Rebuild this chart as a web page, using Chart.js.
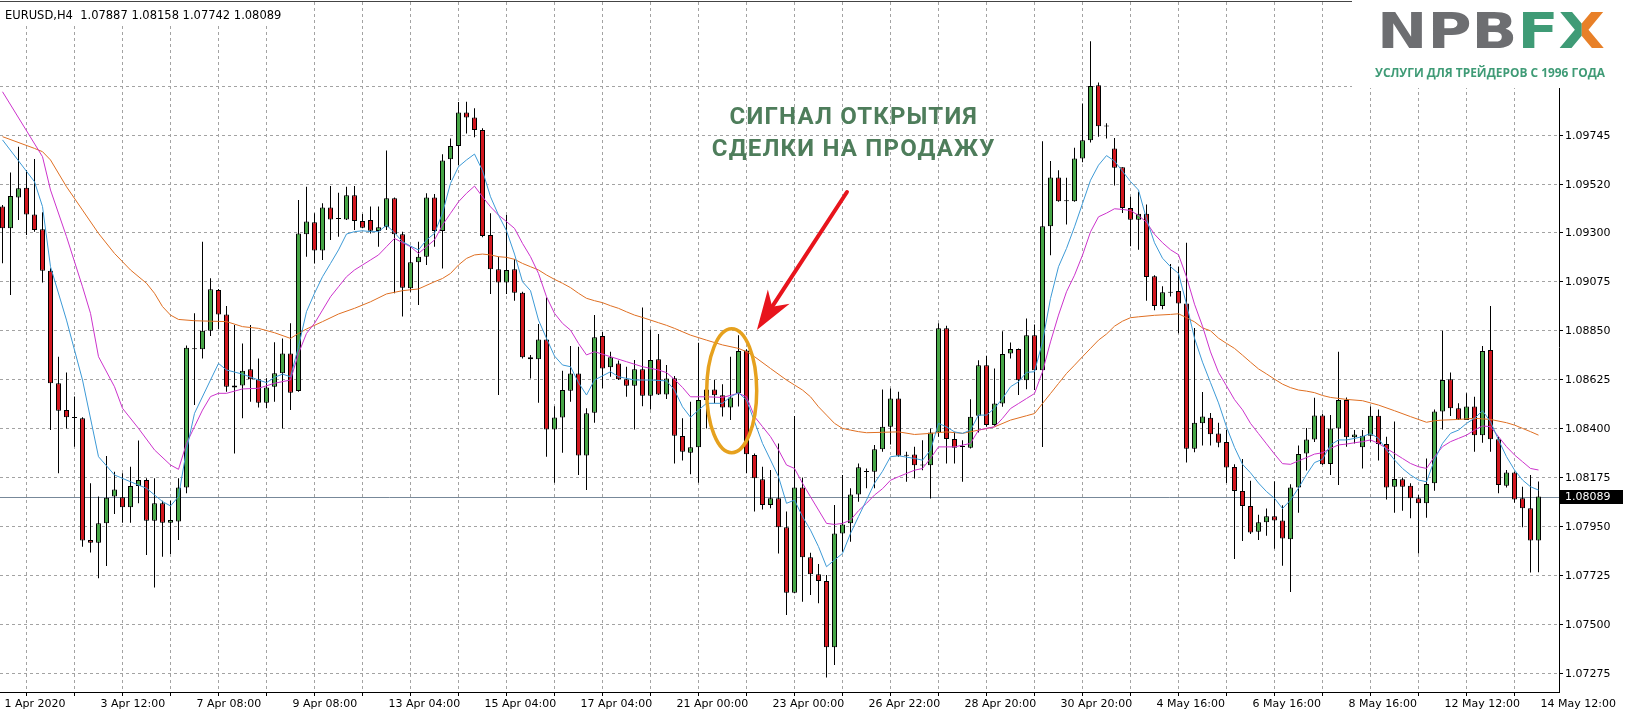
<!DOCTYPE html>
<html lang="ru">
<head>
<meta charset="utf-8">
<title>EURUSD H4</title>
<script src="https://cdn.jsdelivr.net/npm/chart.js@4.4.1/dist/chart.umd.min.js"></script>
<style>
  html, body { margin: 0; padding: 0; background: #fff; }
  #box { width: 1626px; height: 719px; }
</style>
</head>
<body>
<div id="box"><canvas id="chart" width="1626" height="719"></canvas></div>
<script>
// EURUSD H4, 193 свечи (1 Apr 12:00 .. 14 May 12:00) + три скользящие средние
const symbol = 'EURUSD';
const timeframe = 'H4';

// подписи оси времени — каждые 12 баров, сетка — каждые 6
const xTickLabels = ['1 Apr 2020', '3 Apr 12:00', '7 Apr 08:00', '9 Apr 08:00', '13 Apr 04:00', '15 Apr 04:00',
  '17 Apr 04:00', '21 Apr 00:00', '23 Apr 00:00', '26 Apr 22:00', '28 Apr 20:00', '30 Apr 20:00',
  '4 May 16:00', '6 May 16:00', '8 May 16:00', '12 May 12:00', '14 May 12:00'];
const barsPerLabel = 12;
const barsPerGrid = 6;

// верхняя линия сетки (1.09970) закрыта логотипом, подпись не видна
const yTickValues = [1.07275, 1.075, 1.07725, 1.0795, 1.08175, 1.084, 1.08625, 1.0885, 1.09075, 1.093, 1.0952, 1.09745, 1.0997];
const yTickLabels = ['1.07275', '1.07500', '1.07725', '1.07950', '1.08175', '1.08400', '1.08625', '1.08850', '1.09075', '1.09300', '1.09520', '1.09745', ''];
const yMin = 1.07192, yMax = 1.10359;
const xMin = -0.3125, xMax = 194.5625;

const opens = [
  1.09420, 1.09320, 1.09462, 1.09507, 1.09384, 1.09316, 1.09126, 1.08609, 1.08486, 1.08453,
  1.08448, 1.07890, 1.07877, 1.07966, 1.08089, 1.08086, 1.08040, 1.08138, 1.08165, 1.07978,
  1.08058, 1.07969, 1.07974, 1.08131, 1.08765, 1.08765, 1.08850, 1.09037, 1.08925, 1.08599,
  1.08599, 1.08673, 1.08627, 1.08520, 1.08593, 1.08655, 1.08746, 1.08573, 1.09293, 1.09348,
  1.09218, 1.09416, 1.09366, 1.09361, 1.09472, 1.09354, 1.09358, 1.09308, 1.09325, 1.09458,
  1.09293, 1.09045, 1.09164, 1.09190, 1.09462, 1.09308, 1.09637, 1.09698, 1.09852, 1.09829,
  1.09771, 1.09289, 1.09132, 1.09071, 1.09132, 1.09025, 1.08728, 1.08719, 1.08810, 1.08397,
  1.08452, 1.08575, 1.08654, 1.08277, 1.08474, 1.08826, 1.08682, 1.08700, 1.08627, 1.08598,
  1.08673, 1.08552, 1.08719, 1.08558, 1.08632, 1.08367, 1.08290, 1.08315, 1.08532, 1.08581,
  1.08554, 1.08498, 1.08563, 1.08759, 1.08280, 1.08168, 1.08050, 1.08081, 1.07948, 1.07648,
  1.08131, 1.07810, 1.07732, 1.07701, 1.07397, 1.07920, 1.07966, 1.08099, 1.08202, 1.08203,
  1.08306, 1.08409, 1.08539, 1.08279, 1.08282, 1.08235, 1.08233, 1.08383, 1.08861, 1.08353,
  1.08319, 1.08313, 1.08460, 1.08692, 1.08417, 1.08516, 1.08746, 1.08766, 1.08623, 1.08830,
  1.08669, 1.09330, 1.09554, 1.09447, 1.09445, 1.09641, 1.09725, 1.09977, 1.09791, 1.09687,
  1.09601, 1.09413, 1.09360, 1.09387, 1.09100, 1.08964, 1.09029, 1.09032, 1.08975, 1.08308,
  1.08425, 1.08451, 1.08378, 1.08339, 1.08225, 1.08115, 1.08046, 1.07927, 1.07971, 1.07999,
  1.07979, 1.07893, 1.08131, 1.08287, 1.08351, 1.08461, 1.08238, 1.08402, 1.08532, 1.08361,
  1.08315, 1.08368, 1.08460, 1.08330, 1.08134, 1.08168, 1.08139, 1.08081, 1.08058, 1.08150,
  1.08479, 1.08627, 1.08494, 1.08440, 1.08502, 1.08371, 1.08762, 1.08352, 1.08139, 1.08199,
  1.08081, 1.08035, 1.07887
];
const highs = [
  1.09427, 1.09576, 1.09695, 1.09588, 1.09638, 1.09394, 1.09137, 1.08731, 1.08658, 1.08548,
  1.08453, 1.08150, 1.08089, 1.08275, 1.08203, 1.08196, 1.08226, 1.08346, 1.08173, 1.08173,
  1.08070, 1.08070, 1.08173, 1.08782, 1.08930, 1.09259, 1.09091, 1.09042, 1.08964, 1.08876,
  1.08792, 1.08876, 1.08723, 1.08632, 1.08797, 1.08815, 1.08884, 1.09450, 1.09511, 1.09389,
  1.09435, 1.09514, 1.09484, 1.09511, 1.09514, 1.09386, 1.09420, 1.09420, 1.09677, 1.09462,
  1.09305, 1.09236, 1.09259, 1.09481, 1.09478, 1.09660, 1.09732, 1.09900, 1.09901, 1.09871,
  1.09779, 1.09389, 1.09190, 1.09381, 1.09178, 1.09029, 1.08739, 1.08881, 1.09003, 1.08504,
  1.08667, 1.08780, 1.08777, 1.08494, 1.08922, 1.08846, 1.08754, 1.08713, 1.08685, 1.08716,
  1.08957, 1.08856, 1.08835, 1.08693, 1.08642, 1.08448, 1.08524, 1.08795, 1.08655, 1.08624,
  1.08604, 1.08731, 1.08830, 1.08765, 1.08287, 1.08226, 1.08211, 1.08333, 1.08020, 1.08459,
  1.08177, 1.07831, 1.07779, 1.07729, 1.08050, 1.08188, 1.08127, 1.08241, 1.08218, 1.08326,
  1.08581, 1.08585, 1.08570, 1.08295, 1.08318, 1.08348, 1.08402, 1.08884, 1.08873, 1.08386,
  1.08348, 1.08536, 1.08715, 1.08735, 1.08677, 1.08848, 1.08796, 1.08769, 1.08906, 1.08879,
  1.09720, 1.09629, 1.09587, 1.09552, 1.09690, 1.09893, 1.10179, 1.09990, 1.09802, 1.09735,
  1.09601, 1.09465, 1.09488, 1.09429, 1.09105, 1.09054, 1.09157, 1.09144, 1.09254, 1.08863,
  1.08569, 1.08472, 1.08428, 1.08394, 1.08237, 1.08261, 1.08162, 1.08006, 1.08034, 1.08159,
  1.08049, 1.08146, 1.08323, 1.08404, 1.08542, 1.08469, 1.08463, 1.08754, 1.08544, 1.08394,
  1.08394, 1.08502, 1.08489, 1.08364, 1.08433, 1.08177, 1.08150, 1.08096, 1.08264, 1.08489,
  1.08850, 1.08658, 1.08517, 1.08563, 1.08547, 1.08780, 1.08964, 1.08364, 1.08211, 1.08203,
  1.08134, 1.08188, 1.08158
];
const lows = [
  1.09160, 1.09014, 1.09358, 1.09290, 1.09305, 1.09071, 1.08395, 1.08196, 1.08402, 1.08318,
  1.07859, 1.07832, 1.07714, 1.07770, 1.08009, 1.07969, 1.07969, 1.08058, 1.07821, 1.07672,
  1.07813, 1.07825, 1.07890, 1.08104, 1.08509, 1.08723, 1.08826, 1.08857, 1.08570, 1.08287,
  1.08448, 1.08524, 1.08498, 1.08494, 1.08524, 1.08402, 1.08486, 1.08570, 1.09190, 1.09159,
  1.09175, 1.09267, 1.09282, 1.09358, 1.09312, 1.09320, 1.09297, 1.09236, 1.09312, 1.09022,
  1.08915, 1.09029, 1.08968, 1.09152, 1.09236, 1.09136, 1.09542, 1.09611, 1.09756, 1.09738,
  1.09279, 1.09019, 1.08555, 1.09019, 1.08988, 1.08723, 1.08631, 1.08520, 1.08272, 1.08153,
  1.08290, 1.08524, 1.08188, 1.08119, 1.08428, 1.08586, 1.08639, 1.08624, 1.08547, 1.08397,
  1.08504, 1.08489, 1.08555, 1.08537, 1.08241, 1.08254, 1.08191, 1.08153, 1.08402, 1.08517,
  1.08456, 1.08440, 1.08502, 1.08196, 1.08020, 1.08030, 1.08035, 1.07828, 1.07545, 1.07645,
  1.07606, 1.07637, 1.07599, 1.07259, 1.07316, 1.07836, 1.07882, 1.08065, 1.08127, 1.08127,
  1.08295, 1.08328, 1.08272, 1.08157, 1.08172, 1.08210, 1.08080, 1.08363, 1.08241, 1.08241,
  1.08157, 1.08310, 1.08383, 1.08409, 1.08414, 1.08501, 1.08723, 1.08555, 1.08582, 1.08578,
  1.08317, 1.09197, 1.09442, 1.09338, 1.09442, 1.09623, 1.09714, 1.09740, 1.09733, 1.09517,
  1.09391, 1.09238, 1.09222, 1.08988, 1.08944, 1.08949, 1.09007, 1.08839, 1.08245, 1.08292,
  1.08323, 1.08323, 1.08315, 1.08151, 1.07802, 1.07885, 1.07917, 1.07890, 1.07909, 1.07849,
  1.07771, 1.07651, 1.08015, 1.08209, 1.08339, 1.08234, 1.08188, 1.08142, 1.08318, 1.08333,
  1.08218, 1.08341, 1.08254, 1.08076, 1.08015, 1.08024, 1.07989, 1.07828, 1.07992, 1.08116,
  1.08397, 1.08459, 1.08440, 1.08440, 1.08295, 1.08336, 1.08295, 1.08104, 1.08131, 1.08061,
  1.07948, 1.07740, 1.07742
];
const closes = [
  1.09320, 1.09469, 1.09504, 1.09384, 1.09313, 1.09126, 1.08609, 1.08483, 1.08453, 1.08450,
  1.07887, 1.07877, 1.07966, 1.08084, 1.08122, 1.08040, 1.08138, 1.08165, 1.07978, 1.08058,
  1.07969, 1.07981, 1.08131, 1.08772, 1.08768, 1.08850, 1.09040, 1.08925, 1.08593, 1.08590,
  1.08667, 1.08627, 1.08520, 1.08590, 1.08655, 1.08746, 1.08566, 1.09297, 1.09351, 1.09218,
  1.09416, 1.09361, 1.09363, 1.09472, 1.09354, 1.09323, 1.09309, 1.09325, 1.09458, 1.09293,
  1.09048, 1.09164, 1.09190, 1.09462, 1.09308, 1.09631, 1.09698, 1.09852, 1.09829, 1.09771,
  1.09285, 1.09132, 1.09071, 1.09129, 1.09025, 1.08728, 1.08719, 1.08810, 1.08397, 1.08452,
  1.08578, 1.08654, 1.08277, 1.08471, 1.08820, 1.08677, 1.08728, 1.08627, 1.08598, 1.08673,
  1.08552, 1.08716, 1.08558, 1.08631, 1.08368, 1.08295, 1.08315, 1.08532, 1.08581, 1.08554,
  1.08498, 1.08544, 1.08757, 1.08283, 1.08173, 1.08050, 1.08081, 1.07948, 1.07648, 1.08131,
  1.07810, 1.07732, 1.07701, 1.07397, 1.07920, 1.07961, 1.08099, 1.08223, 1.08205, 1.08306,
  1.08410, 1.08539, 1.08276, 1.08276, 1.08233, 1.08232, 1.08383, 1.08861, 1.08353, 1.08313,
  1.08316, 1.08455, 1.08692, 1.08417, 1.08516, 1.08743, 1.08766, 1.08623, 1.08830, 1.08669,
  1.09330, 1.09554, 1.09445, 1.09444, 1.09641, 1.09725, 1.09974, 1.09789, 1.09788, 1.09598,
  1.09413, 1.09360, 1.09387, 1.09097, 1.08964, 1.09027, 1.09025, 1.08975, 1.08308, 1.08428,
  1.08456, 1.08375, 1.08336, 1.08222, 1.08115, 1.08046, 1.07924, 1.07971, 1.07999, 1.07979,
  1.07896, 1.08131, 1.08284, 1.08351, 1.08461, 1.08237, 1.08402, 1.08532, 1.08361, 1.08374,
  1.08368, 1.08460, 1.08330, 1.08131, 1.08170, 1.08134, 1.08081, 1.08058, 1.08147, 1.08479,
  1.08624, 1.08494, 1.08443, 1.08502, 1.08371, 1.08757, 1.08352, 1.08142, 1.08199, 1.08076,
  1.08035, 1.07887, 1.08089
];

// скользящие средние, [номер бара, значение]
const maFast = [[0,1.09726],[4,1.09534],[5,1.09420],[6,1.09144],[8,1.08899],[10,1.08624],[12,1.08272],[14,1.08188],[16,1.08157],[18,1.08127],[20,1.08066],[21,1.08046],[22,1.08089],[23,1.08303],[24,1.08471],[26,1.08624],[27,1.08700],[28,1.08670],[30,1.08651],[32,1.08624],[33,1.08612],[34,1.08636],[35,1.08651],[36,1.08639],[37,1.08777],[38,1.08938],[39,1.09022],[40,1.09098],[41,1.09159],[42,1.09221],[43,1.09294],[44,1.09305],[45,1.09309],[46,1.09305],[47,1.09305],[48,1.09335],[49,1.09300],[50,1.09259],[51,1.09239],[52,1.09221],[53,1.09267],[54,1.09297],[55,1.09390],[56,1.09527],[57,1.09603],[58,1.09634],[59,1.09661],[60,1.09585],[61,1.09465],[62,1.09381],[63,1.09309],[64,1.09202],[65,1.09075],[66,1.09034],[67,1.08899],[68,1.08815],[69,1.08734],[70,1.08693],[71,1.08685],[72,1.08612],[73,1.08555],[74,1.08624],[76,1.08662],[77,1.08639],[79,1.08624],[81,1.08624],[83,1.08620],[84,1.08578],[85,1.08501],[86,1.08453],[87,1.08486],[88,1.08517],[90,1.08517],[91,1.08547],[92,1.08566],[93,1.08532],[94,1.08433],[95,1.08333],[96,1.08257],[97,1.08180],[98,1.08058],[99,1.08073],[100,1.07997],[101,1.07935],[102,1.07859],[103,1.07767],[104,1.07798],[105,1.07828],[106,1.07920],[107,1.07997],[108,1.08073],[109,1.08150],[110,1.08205],[111,1.08272],[112,1.08276],[114,1.08264],[115,1.08256],[116,1.08302],[117,1.08425],[118,1.08409],[119,1.08386],[120,1.08379],[121,1.08394],[122,1.08463],[123,1.08463],[124,1.08494],[125,1.08539],[126,1.08593],[127,1.08616],[128,1.08659],[129,1.08662],[130,1.08799],[131,1.08998],[132,1.09144],[133,1.09228],[134,1.09327],[135,1.09434],[136,1.09541],[137,1.09610],[138,1.09654],[139,1.09629],[140,1.09582],[141,1.09535],[142,1.09496],[143,1.09363],[144,1.09254],[145,1.09183],[146,1.09144],[147,1.09113],[148,1.08972],[149,1.08816],[150,1.08706],[151,1.08612],[152,1.08519],[153,1.08409],[154,1.08315],[155,1.08237],[156,1.08198],[157,1.08151],[158,1.08112],[159,1.08081],[160,1.08034],[161,1.08073],[162,1.08128],[163,1.08190],[164,1.08245],[165,1.08260],[166,1.08326],[167,1.08349],[168,1.08349],[169,1.08356],[170,1.08364],[171,1.08379],[172,1.08356],[173,1.08303],[174,1.08257],[175,1.08218],[176,1.08188],[177,1.08165],[178,1.08157],[179,1.08257],[180,1.08333],[181,1.08379],[182,1.08394],[183,1.08425],[184,1.08448],[185,1.08483],[186,1.08433],[187,1.08349],[188,1.08272],[189,1.08211],[190,1.08165],[191,1.08134],[192,1.08119]];
const maMid = [[0,1.09947],[5,1.09649],[6,1.09496],[8,1.09282],[10,1.09052],[11,1.08930],[12,1.08731],[14,1.08593],[15,1.08494],[17,1.08402],[19,1.08303],[21,1.08234],[22,1.08214],[23,1.08333],[24,1.08410],[25,1.08486],[26,1.08548],[27,1.08563],[28,1.08563],[30,1.08583],[32,1.08586],[34,1.08609],[36,1.08624],[37,1.08746],[38,1.08838],[39,1.08884],[40,1.08945],[41,1.09006],[42,1.09052],[43,1.09098],[44,1.09129],[45,1.09152],[46,1.09175],[47,1.09198],[48,1.09236],[49,1.09274],[50,1.09254],[51,1.09236],[52,1.09205],[53,1.09236],[54,1.09267],[55,1.09335],[56,1.09389],[57,1.09442],[58,1.09481],[59,1.09514],[60,1.09465],[61,1.09419],[62,1.09381],[63,1.09351],[64,1.09320],[65,1.09251],[66,1.09190],[67,1.09113],[68,1.09006],[69,1.08930],[70,1.08884],[71,1.08853],[72,1.08792],[73,1.08739],[74,1.08754],[76,1.08731],[78,1.08708],[80,1.08685],[82,1.08670],[83,1.08658],[84,1.08627],[85,1.08590],[86,1.08547],[88,1.08547],[90,1.08544],[92,1.08563],[93,1.08547],[94,1.08456],[95,1.08410],[96,1.08364],[97,1.08303],[98,1.08234],[99,1.08218],[100,1.08150],[101,1.08088],[102,1.08027],[103,1.07966],[104,1.07961],[105,1.07966],[106,1.07981],[107,1.08024],[108,1.08058],[109,1.08096],[110,1.08125],[111,1.08164],[112,1.08180],[114,1.08210],[115,1.08218],[116,1.08264],[117,1.08317],[119,1.08317],[121,1.08333],[122,1.08394],[123,1.08402],[124,1.08409],[125,1.08448],[126,1.08493],[127,1.08516],[128,1.08539],[129,1.08562],[130,1.08662],[131,1.08799],[132,1.08922],[133,1.09029],[134,1.09105],[135,1.09197],[136,1.09304],[137,1.09373],[138,1.09390],[139,1.09410],[140,1.09407],[141,1.09402],[142,1.09379],[143,1.09348],[144,1.09293],[145,1.09254],[146,1.09222],[147,1.09199],[148,1.09097],[149,1.08972],[150,1.08871],[151,1.08753],[152,1.08659],[153,1.08597],[154,1.08534],[155,1.08487],[156,1.08425],[157,1.08378],[158,1.08331],[159,1.08284],[160,1.08240],[161,1.08237],[162,1.08253],[163,1.08268],[164,1.08284],[165,1.08290],[166,1.08310],[167,1.08326],[168,1.08330],[169,1.08336],[170,1.08341],[171,1.08349],[172,1.08333],[173,1.08310],[174,1.08287],[175,1.08264],[176,1.08241],[177,1.08226],[178,1.08218],[179,1.08272],[180,1.08318],[181,1.08341],[182,1.08356],[183,1.08371],[184,1.08394],[185,1.08413],[186,1.08410],[187,1.08364],[188,1.08318],[189,1.08280],[190,1.08249],[191,1.08218],[192,1.08211]];
const maSlow = [[0,1.09741],[4,1.09687],[5,1.09672],[6,1.09634],[8,1.09511],[10,1.09404],[12,1.09297],[14,1.09205],[16,1.09129],[18,1.09068],[19,1.09022],[20,1.08961],[21,1.08922],[22,1.08902],[24,1.08896],[28,1.08892],[30,1.08869],[32,1.08861],[34,1.08841],[36,1.08815],[37,1.08838],[38,1.08858],[40,1.08892],[42,1.08927],[44,1.08953],[46,1.08983],[48,1.09019],[50,1.09034],[52,1.09042],[54,1.09075],[55,1.09090],[56,1.09113],[57,1.09152],[58,1.09182],[59,1.09198],[60,1.09202],[61,1.09198],[62,1.09190],[63,1.09187],[64,1.09178],[65,1.09159],[66,1.09144],[67,1.09129],[68,1.09106],[69,1.09086],[70,1.09068],[71,1.09048],[72,1.09022],[73,1.08999],[74,1.08988],[75,1.08979],[76,1.08965],[77,1.08953],[78,1.08937],[79,1.08922],[80,1.08911],[81,1.08899],[82,1.08887],[83,1.08875],[84,1.08861],[86,1.08830],[88,1.08807],[90,1.08785],[92,1.08769],[93,1.08754],[94,1.08731],[96,1.08677],[98,1.08624],[99,1.08601],[100,1.08578],[101,1.08547],[102,1.08501],[103,1.08463],[104,1.08425],[105,1.08402],[106,1.08394],[107,1.08387],[108,1.08382],[110,1.08384],[112,1.08386],[114,1.08374],[116,1.08379],[118,1.08386],[120,1.08379],[122,1.08394],[124,1.08409],[126,1.08440],[128,1.08460],[129,1.08470],[130,1.08516],[131,1.08562],[132,1.08608],[133,1.08654],[134,1.08692],[135,1.08731],[136,1.08769],[137,1.08807],[138,1.08835],[139,1.08871],[140,1.08894],[141,1.08910],[142,1.08914],[144,1.08921],[146,1.08925],[147,1.08928],[148,1.08910],[149,1.08891],[150,1.08863],[151,1.08850],[152,1.08816],[153,1.08792],[154,1.08769],[155,1.08738],[156,1.08706],[157,1.08675],[158,1.08652],[159,1.08628],[160,1.08605],[161,1.08589],[162,1.08578],[163,1.08573],[164,1.08566],[165,1.08553],[166,1.08544],[168,1.08535],[170,1.08529],[172,1.08509],[174,1.08483],[176,1.08456],[178,1.08430],[179,1.08437],[180,1.08440],[182,1.08443],[184,1.08448],[186,1.08443],[188,1.08428],[189,1.08417],[190,1.08402],[191,1.08387],[192,1.08371]];

// разметка сигнала: [бар, цена]
const signalLines = ['СИГНАЛ ОТКРЫТИЯ', 'СДЕЛКИ НА ПРОДАЖУ'];
const signalTextAt = [[106.4, 1.09826], [106.4, 1.09680]];
const arrowFrom = [105.56, 1.09487];
const arrowTo = [94.3, 1.08853];
const ellipseAt = [91.15, 1.08575];
const logoSubtitle = 'УСЛУГИ ДЛЯ ТРЕЙДЕРОВ С 1996 ГОДА';

const upColor = '#46a546';
const downColor = '#d2161e';
const gridColor = '#a3a3a3';
const axisFont = { family: 'DejaVu Sans', size: 11 };

const xGridBars = [];
for (let b = 0; b <= opens.length - 1; b += barsPerGrid) xGridBars.push(b);

const overlay = {
  id: 'overlay',
  beforeDatasetsDraw(chart) {
    const { ctx, chartArea: a, scales: { y } } = chart;
    const py = Math.round(y.getPixelForValue(closes[closes.length - 1])) + 0.5;
    ctx.save();
    ctx.strokeStyle = '#778899';
    ctx.lineWidth = 1;
    ctx.beginPath();
    ctx.moveTo(a.left, py);
    ctx.lineTo(a.right, py);
    ctx.stroke();
    ctx.restore();
  },
  afterDraw(chart) {
    const { ctx, chartArea: a, scales: { x, y } } = chart;
    const last = opens.length - 1;
    ctx.save();

    // верхняя рамка
    ctx.fillStyle = '#444';
    ctx.fillRect(0, 1, 1352, 1);

    // заголовок
    ctx.fillStyle = '#fff';
    ctx.fillRect(0, 2, 290, 22);
    ctx.fillStyle = '#000';
    ctx.font = '11.5px "DejaVu Sans"';
    ctx.textBaseline = 'middle';
    ctx.textAlign = 'left';
    const title = symbol + ',' + timeframe + '  ' +
      [opens[last], highs[last], lows[last], closes[last]].map(v => v.toFixed(5)).join(' ');
    ctx.fillText(title, 5, 16);

    // метка текущей цены
    ctx.font = '11px "DejaVu Sans"';
    const py = Math.round(y.getPixelForValue(closes[last]));
    ctx.fillStyle = '#000';
    ctx.fillRect(a.right + 1, py - 7, 63, 14);
    ctx.fillStyle = '#fff';
    ctx.fillText(closes[last].toFixed(5), a.right + 6, py + 0.5);

    // логотип
    ctx.fillStyle = '#fff';
    ctx.fillRect(1352, 0, 274, 88);
    ctx.save();
    ctx.translate(1377, 48);
    ctx.font = 'bold 50px "DejaVu Sans"';
    ctx.textBaseline = 'alphabetic';
    const full = ctx.measureText('NPBFX').width;
    ctx.scale(228 / full, 1);
    let cx = 0;
    ctx.fillStyle = '#6d6e71';
    ctx.fillText('NPB', cx, 0);
    cx += ctx.measureText('NPB').width;
    ctx.fillStyle = '#3f9b76';
    ctx.fillText('F', cx, 0);
    cx += ctx.measureText('F').width;
    const wx = ctx.measureText('X').width;
    ctx.save();
    ctx.beginPath(); ctx.rect(cx - 2, -50, wx / 2 + 2, 60); ctx.clip();
    ctx.fillStyle = '#3f9b76';
    ctx.fillText('X', cx, 0);
    ctx.restore();
    ctx.save();
    ctx.beginPath(); ctx.rect(cx + wx / 2, -50, wx, 60); ctx.clip();
    ctx.fillStyle = '#e88028';
    ctx.fillText('X', cx, 0);
    ctx.restore();
    ctx.restore();
    ctx.fillStyle = '#3f9b76';
    ctx.font = 'bold 13px "Open Sans"';
    ctx.textBaseline = 'middle';
    ctx.fillText(logoSubtitle, 1375, 73, 230);

    // сигнал
    ctx.fillStyle = '#4e7d5b';
    ctx.font = 'bold 24px Roboto';
    ctx.textAlign = 'center';
    ctx.letterSpacing = '1.2px';
    signalLines.forEach((t, i) => {
      ctx.fillText(t, x.getPixelForValue(signalTextAt[i][0]), y.getPixelForValue(signalTextAt[i][1]));
    });
    ctx.letterSpacing = '0px';

    // стрелка
    const tx = x.getPixelForValue(arrowFrom[0]), ty = y.getPixelForValue(arrowFrom[1]);
    const hx = x.getPixelForValue(arrowTo[0]), hy = y.getPixelForValue(arrowTo[1]);
    const len = Math.hypot(hx - tx, hy - ty);
    const ux = (hx - tx) / len, uy = (hy - ty) / len;
    const bx = hx - ux * 40, by = hy - uy * 40;
    const nx = hx - ux * 28, ny = hy - uy * 28;
    ctx.strokeStyle = '#e8141c';
    ctx.fillStyle = '#e8141c';
    ctx.lineWidth = 4;
    ctx.lineCap = 'round';
    ctx.beginPath(); ctx.moveTo(tx, ty); ctx.lineTo(nx, ny); ctx.stroke();
    ctx.beginPath();
    ctx.moveTo(hx, hy);
    ctx.lineTo(bx - uy * 13, by + ux * 13);
    ctx.lineTo(nx, ny);
    ctx.lineTo(bx + uy * 13, by - ux * 13);
    ctx.closePath();
    ctx.fill();

    // эллипс
    ctx.strokeStyle = '#e6a11e';
    ctx.lineWidth = 3.5;
    ctx.beginPath();
    ctx.ellipse(x.getPixelForValue(ellipseAt[0]), y.getPixelForValue(ellipseAt[1]), 25, 62, 0, 0, Math.PI * 2);
    ctx.stroke();

    ctx.restore();
  }
};

new Chart(document.getElementById('chart'), {
  type: 'bar',
  data: {
    datasets: [
      { type: 'line', label: 'MA fast', data: maFast.map(([b, v]) => ({ x: b, y: v })),
        borderColor: '#3d9ad6', borderWidth: 1, pointRadius: 0, tension: 0, order: 1 },
      { type: 'line', label: 'MA mid', data: maMid.map(([b, v]) => ({ x: b, y: v })),
        borderColor: '#cc33cc', borderWidth: 1, pointRadius: 0, tension: 0, order: 1 },
      { type: 'line', label: 'MA slow', data: maSlow.map(([b, v]) => ({ x: b, y: v })),
        borderColor: '#df6f22', borderWidth: 1, pointRadius: 0, tension: 0, order: 1 },
      { label: 'wick', data: opens.map((o, i) => ({ x: i, y: [lows[i], highs[i]] })),
        backgroundColor: '#000', barThickness: 1, grouped: false, inflateAmount: 0, order: 3 },
      { label: 'body', data: opens.map((o, i) => ({ x: i, y: [o, closes[i]] })),
        backgroundColor: opens.map((o, i) => closes[i] >= o ? upColor : downColor),
        borderColor: '#000', borderWidth: 1, borderSkipped: false, barThickness: 5,
        minBarLength: 1, grouped: false, inflateAmount: 0, order: 2 }
    ]
  },
  options: {
    responsive: false,
    animation: false,
    devicePixelRatio: 1,
    events: [],
    layout: { padding: { top: 2, left: 0, right: 0, bottom: 0 } },
    plugins: { legend: { display: false }, tooltip: { enabled: false } },
    scales: {
      x: {
        type: 'linear', min: xMin, max: xMax, offset: false, position: 'bottom',
        afterBuildTicks: s => { s.ticks = xGridBars.map(v => ({ value: v })); },
        afterFit: s => { s.height = 27; s.paddingLeft = 0; s.paddingRight = 0; },
        ticks: {
          autoSkip: false, maxRotation: 0, minRotation: 0, align: 'start', labelOffset: 2, padding: 2,
          color: '#000', font: axisFont,
          callback: v => (v % barsPerLabel === 0 ? xTickLabels[v / barsPerLabel] : '')
        },
        grid: {
          color: c => (c.tick && c.tick.value === 0 ? 'rgba(0,0,0,0)' : gridColor),
          lineWidth: 1, drawTicks: true, tickLength: 4, tickColor: '#000', tickWidth: 1
        },
        border: { display: true, color: '#000', width: 1, dash: [3, 3] }
      },
      y: {
        type: 'linear', position: 'right', min: yMin, max: yMax,
        afterBuildTicks: s => { s.ticks = yTickValues.map(v => ({ value: v })); },
        afterFit: s => { s.width = 67; s.paddingTop = 0; s.paddingBottom = 0; },
        ticks: { color: '#000', font: axisFont, padding: 2, callback: (v, i) => yTickLabels[i] },
        grid: { color: gridColor, lineWidth: 1, tickLength: 4, tickColor: '#000', tickWidth: 1 },
        border: { display: true, color: '#000', width: 1, dash: [3, 3] }
      }
    }
  },
  plugins: [overlay]
});
</script>
</body>
</html>
